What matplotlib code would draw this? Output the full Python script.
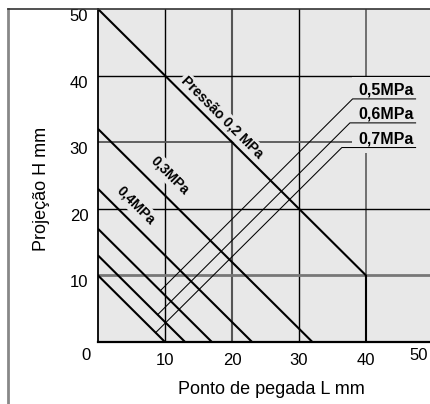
import matplotlib.pyplot as plt
from matplotlib.lines import Line2D
from matplotlib.patches import Rectangle

plt.rcParams['font.family'] = ['Liberation Sans', 'DejaVu Sans']

# pressure curves: H at L=0 (mm), 0,2 MPa has a cap at L=40
pressures = ['0,2', '0,3', '0,4', '0,5', '0,6', '0,7']
h_intercept = [50, 32, 23, 17, 13, 10]
p02_L = [0, 40, 40]
p02_H = [50, 10, 0]

# leader lines for the 0,5 / 0,6 / 0,7 labels
leader_labels = ['0,5MPa', '0,6MPa', '0,7MPa']
leader_start_L = [9.3, 8.9, 8.6]
leader_start_H = [7.7, 4.1, 1.4]
leader_end_L = [38.0, 37.6, 36.4]
leader_end_H = [36.5, 32.9, 29.2]
underline_end_L = 47.4

ticks = [10, 20, 30, 40, 50]
bg = '#e8e8e8'

W, H = 430, 404
fig = plt.figure(figsize=(W / 100, H / 100), dpi=100)
ax = fig.add_axes([98 / W, 1 - 342 / H, 335 / W, 333 / H])
ax.set_facecolor(bg)
ax.set_xlim(0, 50)
ax.set_ylim(0, 50)

# grid
vgrid = {10: ('black', 1.0), 20: ('#555555', 1.5), 30: ('black', 1.0), 40: ('#666666', 1.3)}
hgrid = {10: ('#777777', 2.0), 20: ('black', 1.0), 30: ('#555555', 1.3), 40: ('black', 1.0)}
for v, (c, lw) in vgrid.items():
    ax.axvline(v, color=c, lw=lw, zorder=1)
for v, (c, lw) in hgrid.items():
    ax.axhline(v, color=c, lw=lw, zorder=1)

# blank area behind the right-hand labels
ax.add_patch(Rectangle((37.9, 28.4), 13, 11.4, facecolor=bg, edgecolor='none', zorder=2))

# pressure lines
ax.plot(p02_L, p02_H, color='black', lw=1.5, zorder=4, solid_capstyle='butt')
for h in h_intercept[1:]:
    ax.plot([0, h], [h, 0], color='black', lw=1.5, zorder=4, solid_capstyle='butt')

box = dict(facecolor=bg, edgecolor='none', pad=1.5)
ax.text(18.5, 33.7, 'Pressão 0,2 MPa', rotation=-45, ha='center', va='center',
        fontsize=10, fontweight='bold', bbox=box, zorder=3, rotation_mode='anchor')
ax.text(10.7, 25.1, '0,3MPa', rotation=-45, ha='center', va='center',
        fontsize=10, fontweight='bold', bbox=box, zorder=3, rotation_mode='anchor')
ax.text(5.7, 20.5, '0,4MPa', rotation=-45, ha='center', va='center',
        fontsize=10, fontweight='bold', bbox=box, zorder=3, rotation_mode='anchor')

for lab, x0, y0, x1, y1 in zip(leader_labels, leader_start_L, leader_start_H, leader_end_L, leader_end_H):
    ax.plot([x0, x1, underline_end_L], [y0, y1, y1], color='black', lw=0.75, zorder=4)
    ax.text(38.9, y1 + 0.2, lab, ha='left', va='bottom', fontsize=11.5, fontweight='bold', zorder=3)

ax.set_xticks(ticks[:-1])
ax.set_yticks(ticks)
ax.tick_params(length=0, labelsize=12)
ax.tick_params(axis='x', pad=8)
ax.tick_params(axis='y', pad=7)
for lab in ax.get_yticklabels():
    lab.set_va('top')
ax.text(-1.8, -2.0, '0', ha='center', va='center', fontsize=12)
ax.text(47.9, -2.0, '50', ha='center', va='center', fontsize=12)
for s in ['top', 'right']:
    ax.spines[s].set_visible(False)
ax.spines['left'].set_linewidth(1.3)
ax.spines['bottom'].set_linewidth(1.6)
ax.set_xlabel('Ponto de pegada L mm', fontsize=13)
ax.xaxis.set_label_coords(0.518, -0.118)
ax.set_ylabel('Projeção H mm', fontsize=13)
ax.yaxis.set_label_coords(-0.143, 0.46)

# outer frame
fig.add_artist(Line2D([8 / W, 8 / W], [0, 1 - 9 / H], color='#888888', lw=2))
fig.add_artist(Line2D([8 / W, 1], [1 - 9 / H, 1 - 9 / H], color='#333333', lw=1.2))

fig.savefig('out.png', dpi=100)
